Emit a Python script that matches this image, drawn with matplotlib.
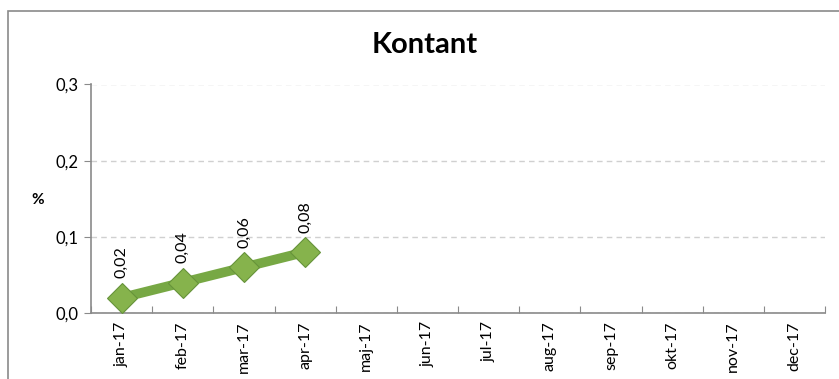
import matplotlib
matplotlib.use("Agg")
import matplotlib.pyplot as plt
from matplotlib.patches import Rectangle

plt.rcParams['font.family'] = ['Lato', 'DejaVu Sans']

months = ["jan-17", "feb-17", "mar-17", "apr-17", "maj-17", "jun-17",
          "jul-17", "aug-17", "sep-17", "okt-17", "nov-17", "dec-17"]
values = [0.02, 0.04, 0.06, 0.08]
y_ticks = [0.0, 0.1, 0.2, 0.3]
y_tick_labels = ["0,0", "0,1", "0,2", "0,3"]
title = "Kontant"
y_label = "%"

W, H = 839, 379
fig = plt.figure(figsize=(W / 100, H / 100), dpi=100)
fig.patch.set_facecolor("white")

# chart frame
fig.patches.append(Rectangle((8 / W, -0.05), 1.0, (H - 11) / H + 0.05,
                             transform=fig.transFigure, fill=False,
                             edgecolor="#8a8a8a", linewidth=1.2))

left, right, top, bottom = 91, 825, 84.5, 313
ax = fig.add_axes([left / W, 1 - bottom / H, (right - left) / W, (bottom - top) / H])

n = len(months)
x = [i + 0.5 for i in range(len(values))]
ax.plot(x, values, color="#77a844", linewidth=7, solid_capstyle="butt", zorder=3)
ax.plot(x, values, linestyle="none", marker="D", markersize=15,
        markerfacecolor="#86b34c", markeredgecolor="#66933a",
        markeredgewidth=0.8, zorder=4)
for xi, v in zip(x, values):
    ax.annotate(f"{v:.2f}".replace(".", ","), (xi, v), xytext=(0, 14),
                textcoords="offset points", rotation=90, ha="center", va="bottom",
                fontsize=11.5, color="black")

ax.set_xlim(0, n)
ax.set_ylim(0, 0.3)
ax.set_yticks(y_ticks)
ax.set_yticklabels(y_tick_labels, fontsize=12)
ax.set_xticks([i for i in range(n + 1)], minor=False)
ax.set_xticklabels([])
ax.set_xticks([i + 0.5 for i in range(n)], minor=True)
ax.set_xticklabels(months, minor=True, rotation=90, fontsize=11.5)
ax.tick_params(axis="x", which="minor", length=0, pad=6)
ax.tick_params(axis="x", which="major", length=5, color="#8a8a8a", direction="in")
ax.tick_params(axis="y", length=5, color="#8a8a8a", pad=4)

for s in ["top", "right"]:
    ax.spines[s].set_visible(False)
for s in ["left", "bottom"]:
    ax.spines[s].set_color("#8a8a8a")
    ax.spines[s].set_linewidth(1.2)

ax.yaxis.grid(True, linestyle=(0, (4, 3)), color="#d0d0d0", linewidth=1)
ax.set_axisbelow(True)

fig.text(425 / W, 1 - 45 / H, title, ha="center", va="center",
         fontsize=21, fontweight="bold")
fig.text(38 / W, 1 - 200 / H, y_label, ha="center", va="center",
         fontsize=11, fontweight="bold")

fig.savefig("out.png", dpi=100, facecolor="white")
